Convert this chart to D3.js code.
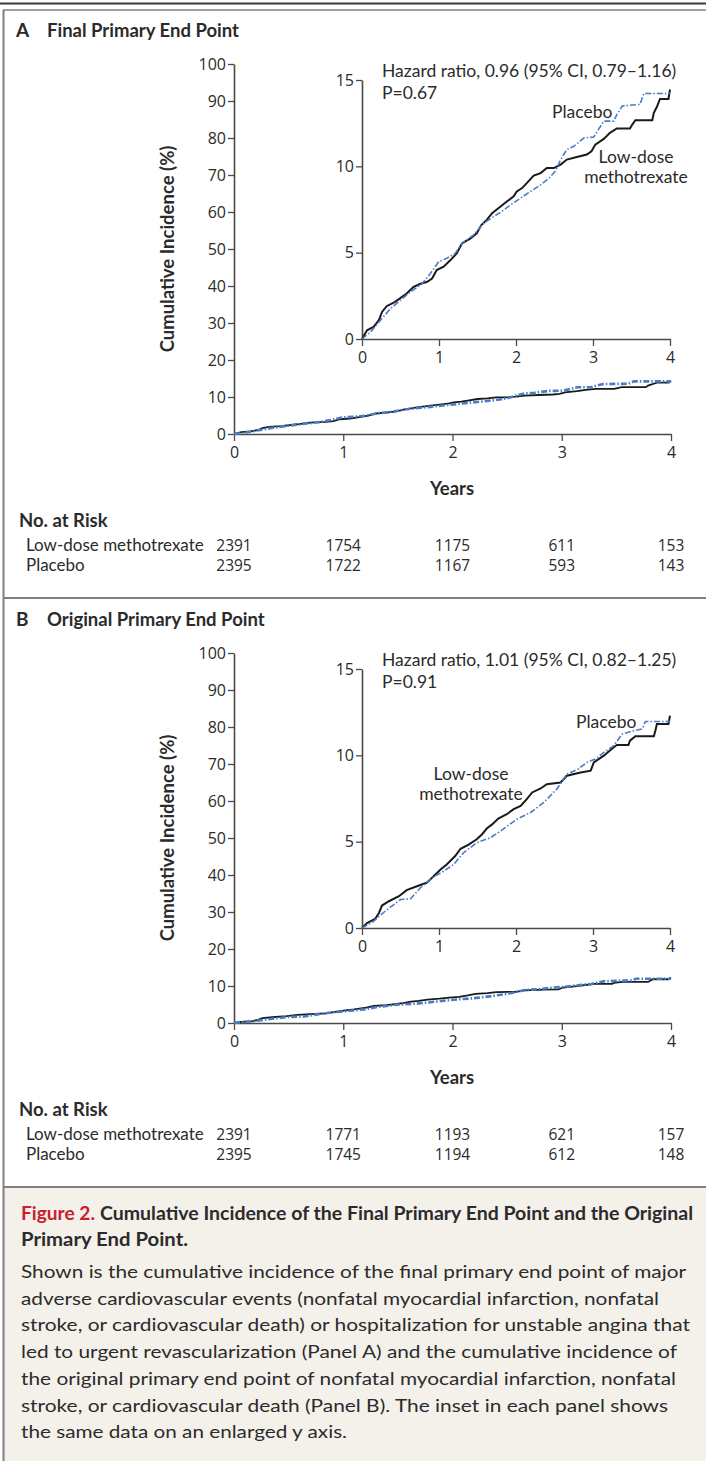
<!DOCTYPE html>
<html><head><meta charset="utf-8">
<script src="https://cdn.jsdelivr.net/npm/d3@7"></script>
<style>body{margin:0;background:#fff}svg{display:block}</style>
</head><body><svg id="c" width="706" height="1461"></svg>
<script>
// ---------- data ----------
const yearTicks = [0, 1, 2, 3, 4];
const mainYTicks = [0, 10, 20, 30, 40, 50, 60, 70, 80, 90, 100];
const insetYTicks = [0, 5, 10, 15];
const groupNames = ["Low-dose methotrexate", "Placebo"];

const panelTitles = ["Final Primary End Point", "Original Primary End Point"];
const panelLetters = ["A", "B"];
const hazardTexts = ["Hazard ratio, 0.96 (95% CI, 0.79\u20131.16)", "Hazard ratio, 1.01 (95% CI, 0.82\u20131.25)"];
const pTexts = ["P=0.67", "P=0.91"];

const atRiskA_mtx = [2391, 1754, 1175, 611, 153];
const atRiskA_pbo = [2395, 1722, 1167, 593, 143];
const atRiskB_mtx = [2391, 1771, 1193, 621, 157];
const atRiskB_pbo = [2395, 1745, 1194, 612, 148];

// cumulative incidence (%) vs years
const curveA_mtx = [[0,0],[0.065,0.5],[0.15,0.7],[0.22,1.09],[0.26,1.57],[0.32,1.9],[0.43,2.15],[0.58,2.63],[0.67,3.02],[0.76,3.2],[0.84,3.3],[0.91,3.5],[0.97,3.99],[1.06,4.19],[1.15,4.57],[1.23,4.96],[1.30,5.54],[1.41,5.83],[1.49,6.12],[1.55,6.6],[1.62,6.9],[1.69,7.29],[1.80,7.67],[1.88,7.96],[1.97,8.26],[2.01,8.55],[2.08,8.74],[2.14,9.03],[2.23,9.46],[2.32,9.61],[2.40,9.9],[2.49,9.9],[2.58,10.1],[2.66,10.39],[2.79,10.54],[2.92,10.68],[2.98,10.87],[3.03,11.26],[3.14,11.59],[3.22,11.94],[3.31,12.19],[3.48,12.19],[3.51,12.42],[3.55,12.67],[3.77,12.67],[3.79,13.1],[3.83,13.45],[3.87,13.9],[3.98,13.9],[4.0,14.45]];
const curveA_pbo = [[0,0],[0.11,0.4],[0.24,1.09],[0.37,1.76],[0.50,2.25],[0.63,2.73],[0.78,3.2],[0.89,3.8],[0.996,4.48],[1.10,4.67],[1.21,4.96],[1.30,5.54],[1.45,6.03],[1.58,6.7],[1.71,7.09],[1.80,7.34],[1.93,7.77],[2.06,8.16],[2.19,8.55],[2.32,8.93],[2.43,9.32],[2.51,9.71],[2.58,10.39],[2.66,10.97],[2.75,11.16],[2.88,11.64],[3.01,11.7],[3.07,12.13],[3.14,12.62],[3.27,12.62],[3.31,13.0],[3.38,13.49],[3.61,13.59],[3.66,14.22],[4.0,14.22]];
const curveB_mtx = [[0,0],[0.065,0.29],[0.17,0.52],[0.22,0.87],[0.26,1.3],[0.35,1.55],[0.48,1.84],[0.58,2.19],[0.74,2.46],[0.84,2.62],[0.91,2.91],[1.02,3.39],[1.10,3.68],[1.21,4.17],[1.28,4.59],[1.39,4.84],[1.49,5.14],[1.56,5.43],[1.62,5.76],[1.69,6.0],[1.77,6.34],[1.88,6.59],[1.97,6.88],[2.06,7.07],[2.14,7.46],[2.21,7.85],[2.32,8.08],[2.40,8.33],[2.58,8.43],[2.66,8.82],[2.84,9.01],[2.97,9.11],[3.01,9.59],[3.14,9.98],[3.27,10.47],[3.31,10.6],[3.46,10.6],[3.48,10.85],[3.55,11.1],[3.79,11.1],[3.81,11.43],[3.83,11.82],[3.98,11.82],[4.0,12.3]];
const curveB_pbo = [[0,0],[0.15,0.39],[0.30,0.97],[0.50,1.65],[0.63,1.69],[0.76,2.33],[0.91,2.91],[1.06,3.29],[1.19,3.68],[1.32,4.36],[1.49,4.94],[1.67,5.23],[1.80,5.62],[2.01,6.3],[2.19,6.69],[2.36,7.27],[2.53,8.04],[2.66,8.91],[2.81,9.21],[2.92,9.59],[3.03,9.79],[3.14,10.17],[3.27,10.56],[3.38,11.24],[3.53,11.43],[3.64,11.53],[3.68,11.96],[4.0,11.96]];

const captionLabel = "Figure 2.";
const captionTitle1 = "Cumulative Incidence of the Final Primary End Point and the Original";
const captionTitle2 = "Primary End Point.";
const captionBody = [
  "Shown is the cumulative incidence of the final primary end point of major",
  "adverse cardiovascular events (nonfatal myocardial infarction, nonfatal",
  "stroke, or cardiovascular death) or hospitalization for unstable angina that",
  "led to urgent revascularization (Panel A) and the cumulative incidence of",
  "the original primary end point of nonfatal myocardial infarction, nonfatal",
  "stroke, or cardiovascular death (Panel B). The inset in each panel shows",
  "the same data on an enlarged y axis."
];
const captionBodyEnds = [686, 659, 690, 677, 676, 668, 347];

// ---------- drawing ----------
const FONT = "Lato, 'Open Sans', 'DejaVu Sans', sans-serif";
const NUMFONT = "'Open Sans', Lato, 'DejaVu Sans', sans-serif";
const TXT = "#2b2b2b";
const AX = "#4a4a4a";
const BLUE = "#4a7cc6";
const svg = d3.select("#c").style("font-family", FONT);
const fmt = d3.format("d");

// frame
svg.append("rect").attr("x", 0).attr("y", 0).attr("width", 706).attr("height", 1461).attr("fill", "#fff");
svg.append("rect").attr("x", 3).attr("y", 1188).attr("width", 703).attr("height", 273).attr("fill", "#f4f1eb");
svg.append("line").attr("x1", 0).attr("x2", 706).attr("y1", 3.5).attr("y2", 3.5).attr("stroke", "#3a3a3a").attr("stroke-width", 2);
svg.append("line").attr("x1", 3).attr("x2", 706).attr("y1", 10).attr("y2", 10).attr("stroke", "#808080").attr("stroke-width", 1.5);
svg.append("line").attr("x1", 3.5).attr("x2", 3.5).attr("y1", 10).attr("y2", 1461).attr("stroke", "#808080").attr("stroke-width", 2);
svg.append("line").attr("x1", 3).attr("x2", 706).attr("y1", 598).attr("y2", 598).attr("stroke", "#808080").attr("stroke-width", 2);
svg.append("line").attr("x1", 3).attr("x2", 706).attr("y1", 1187).attr("y2", 1187).attr("stroke", "#808080").attr("stroke-width", 2);

function styleAxis(g, fs) {
  g.select(".domain").attr("stroke", AX).attr("stroke-width", 1.6);
  g.selectAll(".tick line").attr("stroke", AX).attr("stroke-width", 1.3);
  g.selectAll(".tick text").attr("fill", TXT).style("font-size", fs + "px").style("font-family", NUMFONT);
}

function drawPanel(i, dy, mtx, pbo, riskM, riskP, labelPos) {
  // title
  svg.append("text").attr("x", 16).attr("y", 37 + dy).attr("fill", TXT)
    .style("font-size", "19px").style("font-weight", "bold").text(panelLetters[i]);
  svg.append("text").attr("x", 47).attr("y", 37 + dy).attr("fill", TXT)
    .style("font-size", "18.5px").style("font-weight", "bold").text(panelTitles[i]);

  // main
  const x = d3.scaleLinear().domain([0, 4]).range([234, 671]);
  const y = d3.scaleLinear().domain([0, 100]).range([434 + dy, 64 + dy]);
  const gy = svg.append("g").attr("transform", `translate(234,0)`)
    .call(d3.axisLeft(y).tickValues(mainYTicks).tickFormat(fmt).tickSize(6).tickSizeOuter(0).tickPadding(2));
  styleAxis(gy, 16);
  const gx = svg.append("g").attr("transform", `translate(0,${434 + dy})`)
    .call(d3.axisBottom(x).tickValues(yearTicks).tickFormat(fmt).tickSize(7).tickSizeOuter(0).tickPadding(6));
  styleAxis(gx, 16);

  svg.append("text").attr("transform", `translate(174,${249 + dy}) rotate(-90)`)
    .attr("text-anchor", "middle").attr("fill", TXT)
    .style("font-size", "18.5px").style("font-weight", "bold").text("Cumulative Incidence (%)");
  svg.append("text").attr("x", 452).attr("y", 495 + dy).attr("text-anchor", "middle").attr("fill", TXT)
    .style("font-size", "18.5px").style("font-weight", "bold").text("Years");

  const lineMain = d3.line().x(d => x(d[0])).y(d => y(d[1]));
  svg.append("path").datum(mtx).attr("d", lineMain).attr("fill", "none").attr("stroke", "#1a1a1a").attr("stroke-width", 1.8);
  svg.append("path").datum(pbo).attr("d", lineMain).attr("fill", "none").attr("stroke", BLUE)
    .attr("stroke-width", 2.6).attr("stroke-dasharray", "6,2,1.5,2");

  // inset
  const xi = d3.scaleLinear().domain([0, 4]).range([362, 670]);
  const yi = d3.scaleLinear().domain([0, 15]).range([339 + dy, 80 + dy]);
  const giy = svg.append("g").attr("transform", `translate(362,0)`)
    .call(d3.axisLeft(yi).tickValues(insetYTicks).tickFormat(fmt).tickSize(6).tickSizeOuter(0).tickPadding(2));
  styleAxis(giy, 16);
  const gix = svg.append("g").attr("transform", `translate(0,${339 + dy})`)
    .call(d3.axisBottom(xi).tickValues(yearTicks).tickFormat(fmt).tickSize(7).tickSizeOuter(0).tickPadding(6));
  styleAxis(gix, 16);

  const lineIn = d3.line().x(d => xi(d[0])).y(d => yi(d[1]));
  svg.append("path").datum(mtx).attr("d", lineIn).attr("fill", "none").attr("stroke", "#1a1a1a").attr("stroke-width", 2);
  svg.append("path").datum(pbo).attr("d", lineIn).attr("fill", "none").attr("stroke", BLUE)
    .attr("stroke-width", 1.6).attr("stroke-dasharray", "6,2,1.5,2");

  svg.append("text").attr("x", 382).attr("y", 77 + dy).attr("fill", TXT).style("font-size", "17.5px").text(hazardTexts[i]);
  svg.append("text").attr("x", 382).attr("y", 99 + dy).attr("fill", TXT).style("font-size", "17.5px").text(pTexts[i]);

  // curve labels
  svg.append("text").attr("x", labelPos.pbo[0]).attr("y", labelPos.pbo[1] + dy).attr("fill", TXT)
    .style("font-size", "17.5px").text(groupNames[1]);
  svg.append("text").attr("x", labelPos.mtx[0]).attr("y", labelPos.mtx[1] + dy).attr("text-anchor", "middle").attr("fill", TXT)
    .style("font-size", "17.5px").text("Low-dose");
  svg.append("text").attr("x", labelPos.mtx[0]).attr("y", labelPos.mtx[1] + 20 + dy).attr("text-anchor", "middle").attr("fill", TXT)
    .style("font-size", "17.5px").text("methotrexate");

  // at risk
  svg.append("text").attr("x", 19).attr("y", 527 + dy).attr("fill", TXT)
    .style("font-size", "18.5px").style("font-weight", "bold").text("No. at Risk");
  [riskM, riskP].forEach((row, r) => {
    const by = 551 + r * 20 + dy;
    svg.append("text").attr("x", 26).attr("y", by).attr("fill", TXT).style("font-size", "17px").text(groupNames[r]);
    svg.selectAll(null).data(row).enter().append("text")
      .attr("x", (d, k) => x(yearTicks[k])).attr("y", by).attr("text-anchor", "middle")
      .attr("fill", TXT).style("font-family", NUMFONT).style("font-size", "15.5px").text(d => d);
  });
}

drawPanel(0, 0, curveA_mtx, curveA_pbo, atRiskA_mtx, atRiskA_pbo, {pbo: [552, 118], mtx: [636, 163]});
drawPanel(1, 589, curveB_mtx, curveB_pbo, atRiskB_mtx, atRiskB_pbo, {pbo: [576, 139], mtx: [471, 191]});

// caption
svg.append("text").attr("x", 21).attr("y", 1220).attr("fill", "#c8202f")
  .style("font-size", "18px").style("font-weight", "bold").attr("textLength", 74).attr("lengthAdjust", "spacingAndGlyphs").text(captionLabel);
svg.append("text").attr("x", 100).attr("y", 1220).attr("fill", TXT)
  .style("font-size", "18px").style("font-weight", "bold").attr("textLength", 593).attr("lengthAdjust", "spacingAndGlyphs").text(captionTitle1);
svg.append("text").attr("x", 21).attr("y", 1246).attr("fill", TXT)
  .style("font-size", "18px").style("font-weight", "bold").attr("textLength", 167).attr("lengthAdjust", "spacingAndGlyphs").text(captionTitle2);
captionBody.forEach((t, k) => {
  svg.append("text").attr("x", 21).attr("y", 1278 + k * 26.7).attr("fill", TXT)
    .style("font-size", "18px").attr("textLength", captionBodyEnds[k] - 21).attr("lengthAdjust", "spacingAndGlyphs").text(t);
});
</script>
</body></html>
